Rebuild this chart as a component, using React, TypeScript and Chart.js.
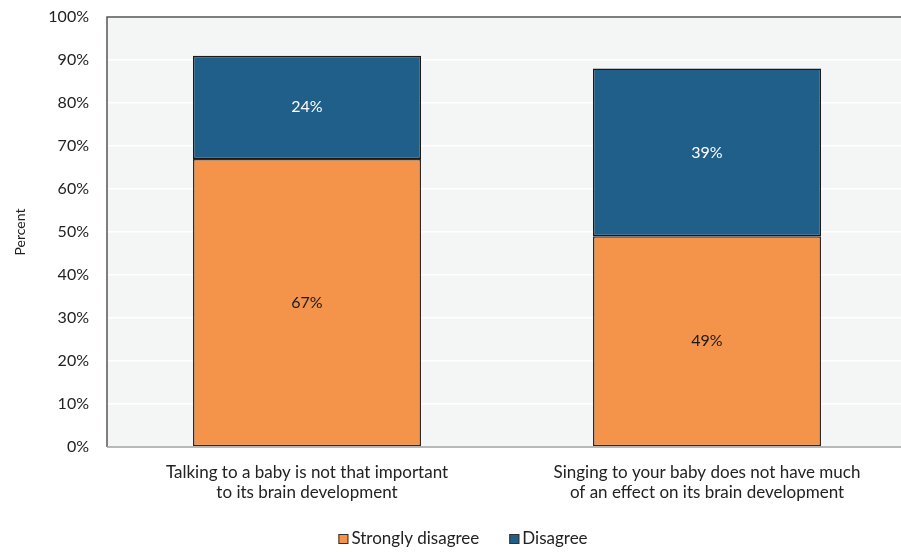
import React, { useEffect, useRef } from "react";
import { Chart, registerables } from "chart.js";

Chart.register(...registerables);

const categories: string[][] = [
  ["Talking to a baby is not that important", "to its brain development"],
  ["Singing to your baby does not have much", "of an effect on its brain development"],
];
const stronglyDisagree = [67, 49];
const disagree = [24, 39];
const seriesNames = ["Strongly disagree", "Disagree"];
const seriesColors = ["#f3944a", "#1f5f8a"];
const yTicks = [0, 10, 20, 30, 40, 50, 60, 70, 80, 90, 100];

const FONT = "Lato, 'Open Sans', sans-serif";
const TEXT = "#222222";

const bgPlugin = {
  id: "plotBg",
  beforeDraw(chart: any) {
    const { ctx, chartArea } = chart;
    ctx.save();
    ctx.fillStyle = "#f4f5f5";
    ctx.fillRect(chartArea.left, chartArea.top, chartArea.right - chartArea.left, chartArea.bottom - chartArea.top);
    ctx.restore();
  },
  afterDatasetsDraw(chart: any) {
    const { ctx, chartArea } = chart;
    ctx.save();
    ctx.strokeStyle = "#555555";
    ctx.lineWidth = 1.5;
    ctx.beginPath();
    ctx.moveTo(chartArea.left, chartArea.bottom);
    ctx.lineTo(chartArea.left, chartArea.top);
    ctx.lineTo(chartArea.right, chartArea.top);
    ctx.stroke();
    ctx.strokeStyle = "#a0a0a0";
    ctx.beginPath();
    ctx.moveTo(chartArea.left, chartArea.bottom);
    ctx.lineTo(chartArea.right, chartArea.bottom);
    ctx.stroke();
    ctx.restore();
  },
};

const labelPlugin = {
  id: "barLabels",
  afterDatasetsDraw(chart: any) {
    const { ctx } = chart;
    ctx.save();
    ctx.font = `16px ${FONT}`;
    ctx.textAlign = "center";
    ctx.textBaseline = "middle";
    chart.data.datasets.forEach((ds: any, di: number) => {
      const meta = chart.getDatasetMeta(di);
      meta.data.forEach((bar: any, i: number) => {
        const v = ds.data[i];
        const y = (bar.y + bar.base) / 2;
        ctx.fillStyle = di === 0 ? "#1a1a1a" : "#ffffff";
        ctx.fillText(`${v}%`, bar.x, y);
      });
    });
    ctx.restore();
  },
};

const legendPlugin = {
  id: "customLegend",
  afterDraw(chart: any) {
    const { ctx } = chart;
    ctx.save();
    ctx.font = `17px ${FONT}`;
    ctx.textBaseline = "middle";
    ctx.textAlign = "left";
    const box = 10;
    const gapText = 3;
    const gapItem = 30;
    const items = chart.data.datasets.map((ds: any) => ({
      label: ds.label,
      color: ds.backgroundColor,
      w: ctx.measureText(ds.label).width,
    }));
    const total = items.reduce((s: number, it: any) => s + box + gapText + it.w, 0) + gapItem * (items.length - 1);
    let x = 463 - total / 2;
    const cy = 539;
    items.forEach((it: any) => {
      ctx.fillStyle = it.color;
      ctx.fillRect(x, cy - box / 2, box, box);
      ctx.strokeStyle = "#333333";
      ctx.lineWidth = 1;
      ctx.strokeRect(x + 0.5, cy - box / 2 + 0.5, box - 1, box - 1);
      ctx.fillStyle = TEXT;
      ctx.fillText(it.label, x + box + gapText, cy);
      x += box + gapText + it.w + gapItem;
    });
    ctx.restore();
  },
};

export default function App() {
  const ref = useRef<HTMLCanvasElement>(null);
  useEffect(() => {
    if (!ref.current) return;
    const chart = new Chart(ref.current, {
      type: "bar",
      data: {
        labels: categories,
        datasets: [
          {
            label: seriesNames[0],
            data: stronglyDisagree,
            backgroundColor: seriesColors[0],
            borderColor: "#2a2a2a",
            borderWidth: 1.5,
            borderSkipped: false,
          },
          {
            label: seriesNames[1],
            data: disagree,
            backgroundColor: seriesColors[1],
            borderColor: "#1a1a1a",
            borderWidth: 1.5,
            borderSkipped: false,
          },
        ],
      },
      options: {
        responsive: false,
        animation: false,
        layout: { padding: { top: 17, right: 3, left: 0, bottom: 0 } },
        datasets: { bar: { barPercentage: 0.57, categoryPercentage: 1 } },
        plugins: {
          legend: { display: false },
          tooltip: { enabled: false },
        },
        scales: {
          x: {
            stacked: true,
            grid: { display: false, drawTicks: false },
            border: { display: false },
            afterFit: (axis: any) => {
              axis.height = 105;
            },
            ticks: {
              font: { family: FONT, size: 17, lineHeight: 1.2 },
              color: TEXT,
              padding: 15,
              maxRotation: 0,
            },
          },
          y: {
            stacked: true,
            min: 0,
            max: 100,
            afterBuildTicks: (axis: any) => {
              axis.ticks = yTicks.map((v) => ({ value: v }));
            },
            afterFit: (axis: any) => {
              axis.width = 107;
              axis.paddingTop = 0;
              axis.paddingBottom = 0;
            },
            grid: { color: "#ffffff", lineWidth: 1.5, drawTicks: false },
            border: { display: false },
            ticks: {
              font: { family: FONT, size: 16 },
              color: TEXT,
              padding: 18,
              callback: (v: any) => `${v}%`,
            },
            title: {
              display: true,
              text: "Percent",
              font: { family: FONT, size: 14 },
              color: TEXT,
              padding: { top: 12, bottom: 0 },
            },
          },
        },
      },
      plugins: [bgPlugin, labelPlugin, legendPlugin],
    });
    return () => chart.destroy();
  }, []);
  return (
    <div style={{ position: "fixed", left: 0, top: 0, width: 901, height: 552, overflow: "hidden", background: "#fff" }}>
      <canvas ref={ref} width={910} height={552} style={{ width: 910, height: 552, display: "block" }} />
    </div>
  );
}
